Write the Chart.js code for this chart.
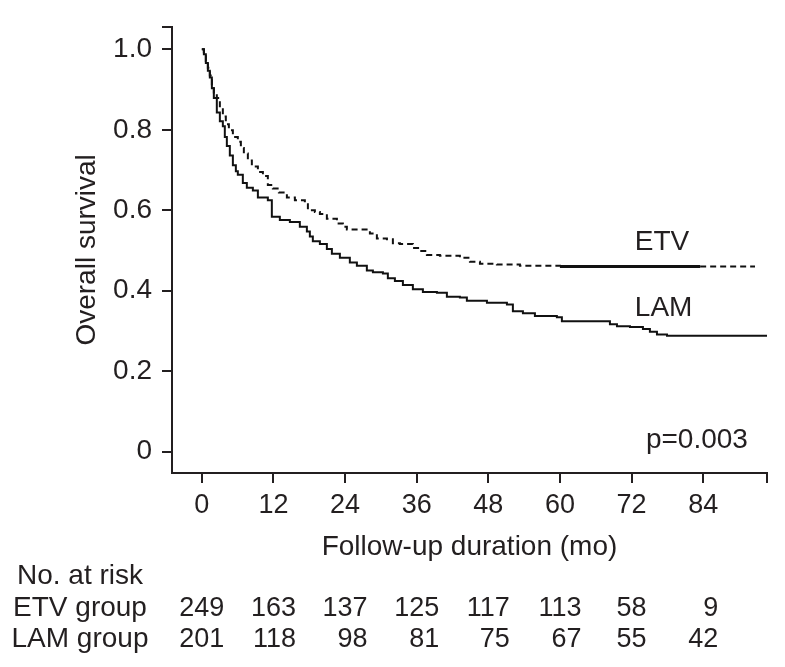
<!DOCTYPE html>
<html>
<head>
<meta charset="utf-8">
<script src="https://cdn.jsdelivr.net/npm/chart.js@4.4.1/dist/chart.umd.min.js"></script>
<style>
  html, body { margin: 0; padding: 0; background: #fff; }
  #wrap { width: 785px; height: 667px; position: relative; }
</style>
</head>
<body>
<div id="wrap"><canvas id="km"></canvas></div>
<script>
// Kaplan-Meier steps (months, overall survival)
const etvTimes = [0, 0.34, 0.67, 1.01, 1.34, 1.68, 2.01, 2.51, 3.02, 3.52, 4.02, 4.53, 5.20, 6.03, 6.54, 7.04,
  7.71, 8.38, 9.39, 10.23, 11.06, 11.90, 12.91, 14.25, 15.59, 17.26, 17.77, 18.94, 19.78, 20.95, 22.63, 23.63,
  24.30, 28.16, 29.33, 31.01, 32.01, 33.19, 35.36, 36.54, 37.71, 39.89, 43.24, 44.92, 46.60, 49.44, 53.30,
  60.00, 83.5, 92.69];
const etvSurv = [1.000, 0.990, 0.971, 0.954, 0.935, 0.910, 0.893, 0.879, 0.855, 0.833, 0.814, 0.799, 0.782, 0.770, 0.755, 0.741,
  0.724, 0.709, 0.695, 0.685, 0.663, 0.654, 0.644, 0.632, 0.625, 0.615, 0.600, 0.596, 0.591, 0.579, 0.567, 0.559,
  0.552, 0.542, 0.530, 0.528, 0.518, 0.516, 0.506, 0.499, 0.489, 0.487, 0.482, 0.472, 0.467, 0.465, 0.462,
  0.460, 0.460, 0.460];

const lamTimes = [0, 0.34, 0.67, 1.01, 1.34, 1.68, 2.01, 2.51, 3.02, 3.52, 3.85, 4.19, 4.69, 5.20, 5.70, 6.03,
  6.87, 7.54, 8.55, 9.39, 11.06, 11.73, 13.07, 14.75, 16.42, 17.60, 18.10, 18.60, 19.78, 20.95, 21.79, 23.13,
  24.80, 25.98, 27.65, 28.66, 30.34, 31.17, 32.35, 33.69, 35.36, 37.04, 39.39, 41.06, 43.24, 44.41, 47.77,
  51.12, 52.12, 53.80, 55.81, 59.49, 60.33, 68.38, 69.56, 71.74, 73.91, 75.08, 76.26, 77.94, 94.7];
const lamSurv = [1.000, 0.988, 0.966, 0.947, 0.930, 0.903, 0.879, 0.843, 0.821, 0.809, 0.782, 0.760, 0.736, 0.712, 0.697, 0.688,
  0.668, 0.656, 0.649, 0.632, 0.625, 0.584, 0.576, 0.571, 0.559, 0.547, 0.535, 0.523, 0.516, 0.504, 0.492, 0.482,
  0.470, 0.462, 0.450, 0.446, 0.443, 0.431, 0.424, 0.414, 0.404, 0.397, 0.395, 0.385, 0.383, 0.375, 0.370,
  0.366, 0.349, 0.344, 0.337, 0.334, 0.324, 0.317, 0.312, 0.310, 0.305, 0.298, 0.291, 0.288, 0.288];

const xTicks = [0, 12, 24, 36, 48, 60, 72, 84];
const yTicks = [0, 0.2, 0.4, 0.6, 0.8, 1.0];

// number at risk table
const riskTimes = [0, 12, 24, 36, 48, 60, 72, 84];
const etvAtRisk = [249, 163, 137, 125, 117, 113, 58, 9];
const lamAtRisk = [201, 118, 98, 81, 75, 67, 55, 42];

const X_MIN = -5, X_MAX = 94.7;
const Y_MIN = -0.053, Y_MAX = 1.056;

const ink = '#231f20';
const FONT = '"Liberation Sans", Arial, Helvetica, sans-serif';

const toPoints = (ts, ss) => ts.map((t, i) => ({ x: t, y: ss[i] }));

// text that is not part of the axes: curve labels, p value, risk table
const annotate = {
  id: 'annotate',
  afterDraw(chart) {
    const { ctx } = chart;
    const x = chart.scales.x;
    const y = chart.scales.y;
    ctx.save();
    ctx.fillStyle = ink;
    ctx.textBaseline = 'alphabetic';

    ctx.font = '28px ' + FONT;
    ctx.textAlign = 'left';
    ctx.fillText('ETV', x.getPixelForValue(72.55), y.getPixelForValue(0.501));
    ctx.fillText('LAM', x.getPixelForValue(72.55), y.getPixelForValue(0.337));
    ctx.textAlign = 'right';
    ctx.fillText('p=0.003', x.getPixelForValue(91.5), y.getPixelForValue(0.0097));

    // risk table
    ctx.textAlign = 'center';
    ctx.fillText('No. at risk', 80, 584);
    ctx.fillText('ETV group', 80, 616);
    ctx.fillText('LAM group', 80, 647);

    ctx.font = '27px ' + FONT;
    ctx.textAlign = 'right';
    riskTimes.forEach((t, i) => {
      const a = String(etvAtRisk[i]);
      const b = String(lamAtRisk[i]);
      const w = Math.max(ctx.measureText(a).width, ctx.measureText(b).width);
      const right = x.getPixelForValue(t) + w / 2;
      ctx.fillText(a, right, 616);
      ctx.fillText(b, right, 647);
    });
    ctx.restore();
  }
};

const ctx = document.getElementById('km').getContext('2d');

new Chart(ctx, {
  type: 'line',
  data: {
    datasets: [
      {
        label: 'ETV',
        data: toPoints(etvTimes, etvSurv),
        borderColor: '#111',
        borderWidth: 2,
        borderDash: [6, 4],
        stepped: true,
        pointRadius: 0,
        segment: {
          // the plateau after 60 months is dense with censor marks, so it reads as a solid bar
          borderDash: c => (c.p0.parsed.x >= 59.9 && c.p1.parsed.x <= 83.6) ? [] : [6, 4],
          borderWidth: c => (c.p0.parsed.x >= 59.9 && c.p1.parsed.x <= 83.6) ? 3 : 2
        }
      },
      {
        label: 'LAM',
        data: toPoints(lamTimes, lamSurv),
        borderColor: '#111',
        borderWidth: 2,
        stepped: true,
        pointRadius: 0
      }
    ]
  },
  options: {
    responsive: true,
    maintainAspectRatio: false,
    animation: false,
    layout: { padding: { left: 0, top: 15, right: 18, bottom: 0 } },
    plugins: {
      legend: { display: false },
      tooltip: { enabled: false }
    },
    scales: {
      x: {
        type: 'linear',
        min: X_MIN,
        max: X_MAX,
        afterBuildTicks: s => { s.ticks = xTicks.map(v => ({ value: v })).concat([{ value: X_MAX }]); },
        afterFit: s => { s.height = 194; },
        ticks: {
          autoSkip: false,
          maxRotation: 0,
          padding: 6,
          color: ink,
          font: { family: FONT, size: 27 },
          callback: v => (xTicks.includes(v) ? String(v) : '')
        },
        grid: { drawOnChartArea: false, tickLength: 10, color: ink, lineWidth: 2 },
        border: { display: true, color: ink, width: 2 },
        title: {
          display: true,
          text: 'Follow-up duration (mo)',
          color: ink,
          font: { family: FONT, size: 28, lineHeight: 1 },
          padding: { top: 0, bottom: 106 }
        }
      },
      y: {
        type: 'linear',
        min: Y_MIN,
        max: Y_MAX,
        afterBuildTicks: s => { s.ticks = yTicks.map(v => ({ value: v })).concat([{ value: Y_MAX }]); },
        afterFit: s => { s.width = 172; },
        ticks: {
          autoSkip: false,
          padding: 10,
          color: ink,
          font: { family: FONT, size: 28 },
          callback: v => (yTicks.includes(v) ? (v === 0 ? '0' : v.toFixed(1)) : '')
        },
        grid: { drawOnChartArea: false, tickLength: 10, color: ink, lineWidth: 2 },
        border: { display: true, color: ink, width: 2 },
        title: {
          display: true,
          text: 'Overall survival',
          color: ink,
          font: { family: FONT, size: 28, lineHeight: 1 },
          padding: { top: 73, bottom: 0 }
        }
      }
    }
  },
  plugins: [annotate]
});
</script>
</body>
</html>
